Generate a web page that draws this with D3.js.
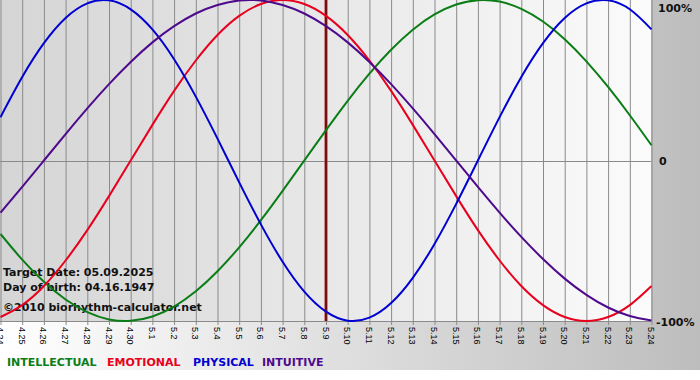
<!DOCTYPE html>
<html><head><meta charset="utf-8">
<script src="https://cdn.jsdelivr.net/npm/d3@7"></script>
<style>html,body{margin:0;padding:0;background:#fff}svg{display:block}</style>
</head><body>
<script>
const days = ["4.24","4.25","4.26","4.27","4.28","4.29","4.30","5.1","5.2","5.3","5.4","5.5","5.6","5.7","5.8","5.9","5.10","5.11","5.12","5.13","5.14","5.15","5.16","5.17","5.18","5.19","5.20","5.21","5.22","5.23","5.24"];
const intellectual = [-0.458,-0.618,-0.756,-0.866,-0.945,-0.990,-0.999,-0.972,-0.910,-0.815,-0.690,-0.541,-0.372,-0.189,0,0.189,0.372,0.541,0.690,0.815,0.910,0.972,0.999,0.990,0.945,0.866,0.756,0.618,0.458,0.282,0.095];
const emotional = [-0.975,-0.901,-0.782,-0.623,-0.434,-0.222,0,0.222,0.434,0.623,0.782,0.901,0.975,1,0.975,0.901,0.782,0.623,0.434,0.222,0,-0.222,-0.434,-0.623,-0.782,-0.901,-0.975,-1,-0.975,-0.901,-0.782];
const physical = [0.270,0.520,0.731,0.888,0.979,0.998,0.942,0.817,0.631,0.398,0.136,-0.136,-0.398,-0.631,-0.817,-0.942,-0.998,-0.979,-0.888,-0.731,-0.520,-0.270,0,0.270,0.520,0.731,0.888,0.979,0.998,0.942,0.817];
const intuitive = [-0.325,-0.165,0,0.165,0.325,0.476,0.614,0.736,0.837,0.916,0.969,0.997,0.997,0.969,0.916,0.837,0.736,0.614,0.476,0.325,0.165,0,-0.165,-0.325,-0.476,-0.614,-0.736,-0.837,-0.916,-0.969,-0.997];
const seriesNames = ["INTELLECTUAL","EMOTIONAL","PHYSICAL","INTUITIVE"];
const seriesColors = ["#0b7d16","#e8001c","#0000d2","#4e0a8c"];
const yTickLabels = ["100%","0","-100%"];
const yTickValues = [1,0,-1];
const targetDay = "5.9";
const infoLines = ["Target Date: 05.09.2025","Day of birth: 04.16.1947","\u00a92010 biorhythm-calculator.net"];

const W = 700, H = 380;
const svg = d3.select("body").append("svg").attr("width", W).attr("height", H);
const defs = svg.append("defs");
const bg = defs.append("linearGradient").attr("id","bg").attr("x1","0").attr("x2","1").attr("y1","0").attr("y2","0");
bg.append("stop").attr("offset","0").attr("stop-color","#ffffff");
bg.append("stop").attr("offset","1").attr("stop-color","#bdbdbd");
const pg = defs.append("linearGradient").attr("id","pg").attr("x1","0").attr("x2","1").attr("y1","0").attr("y2","0");
pg.append("stop").attr("offset","0").attr("stop-color","#d5d5d5");
pg.append("stop").attr("offset","1").attr("stop-color","#fbfbfb");

svg.append("rect").attr("x",0).attr("y",0).attr("width",W).attr("height",370).attr("fill","url(#bg)");

const x = d3.scalePoint().domain(days).range([0.5, 651.5]);
const y = d3.scaleLinear().domain([-1, 1]).range([321, 0]);

svg.append("rect").attr("x",0).attr("y",0).attr("width",651).attr("height",321).attr("fill","url(#pg)");

// vertical grid via axis
const gx = svg.append("g").attr("transform","translate(0,0)")
  .call(d3.axisBottom(x).tickSize(325).tickPadding(0).tickFormat(""));
gx.select(".domain").remove();
gx.selectAll(".tick line").attr("stroke","#8a8a8a").attr("stroke-width",1);

// tick labels rotated
svg.append("g").selectAll("text").data(days).join("text")
  .attr("transform", d => `translate(${x(d)-3.5},327) rotate(90)`)
  .attr("font-family","'Liberation Sans', Arial, sans-serif")
  .attr("font-size", 9)
  .attr("fill","#000")
  .text(d => d);

// zero line & bottom border
svg.append("line").attr("x1",0).attr("x2",651).attr("y1",Math.round(y(0))+0.5).attr("y2",Math.round(y(0))+0.5).attr("stroke","#8a8a8a");
svg.append("line").attr("x1",0).attr("x2",651).attr("y1",y(-1)+0.5).attr("y2",y(-1)+0.5).attr("stroke","#8a8a8a");

// target line
svg.append("line").attr("x1",x(targetDay)).attr("x2",x(targetDay)).attr("y1",0).attr("y2",321)
  .attr("stroke","#b02a2a").attr("stroke-width",3);
svg.append("line").attr("x1",x(targetDay)).attr("x2",x(targetDay)).attr("y1",0).attr("y2",321)
  .attr("stroke","#4a0000").attr("stroke-width",1.2);

// info text (under curves)
const info = svg.append("g");
info.selectAll("text").data(infoLines).join("text")
  .attr("x",3).attr("y",(d,i)=>[276,291,311][i])
  .attr("font-family","'DejaVu Sans', Verdana, sans-serif").attr("font-weight","bold")
  .attr("font-size",11).attr("fill","#111").text(d=>d);

const line = d3.line().x((d,i)=>x(days[i])).y(d=>y(d)).curve(d3.curveNatural);
const allSeries = [intellectual, emotional, physical, intuitive];
svg.append("g").attr("clip-path",null).selectAll("path").data(allSeries).join("path")
  .attr("d", d => line(d)).attr("fill","none")
  .attr("stroke",(d,i)=>seriesColors[i]).attr("stroke-width",2);

// right y labels
svg.append("g").selectAll("text").data(yTickValues).join("text")
  .attr("x",(d,i)=>[658,659,656][i]).attr("y",(d,i)=>[12,165,326][i])
  .attr("font-family","'DejaVu Sans', Verdana, sans-serif").attr("font-weight","bold")
  .attr("font-size",11).attr("fill","#111").text((d,i)=>yTickLabels[i]);

// legend
const legX = [7,107,193,262];
svg.append("g").selectAll("text").data(seriesNames).join("text")
  .attr("x",(d,i)=>legX[i]).attr("y",366)
  .attr("font-family","'DejaVu Sans', Verdana, sans-serif").attr("font-weight","bold")
  .attr("font-size",11).attr("fill",(d,i)=>seriesColors[i]).text(d=>d);
</script>
</body></html>
